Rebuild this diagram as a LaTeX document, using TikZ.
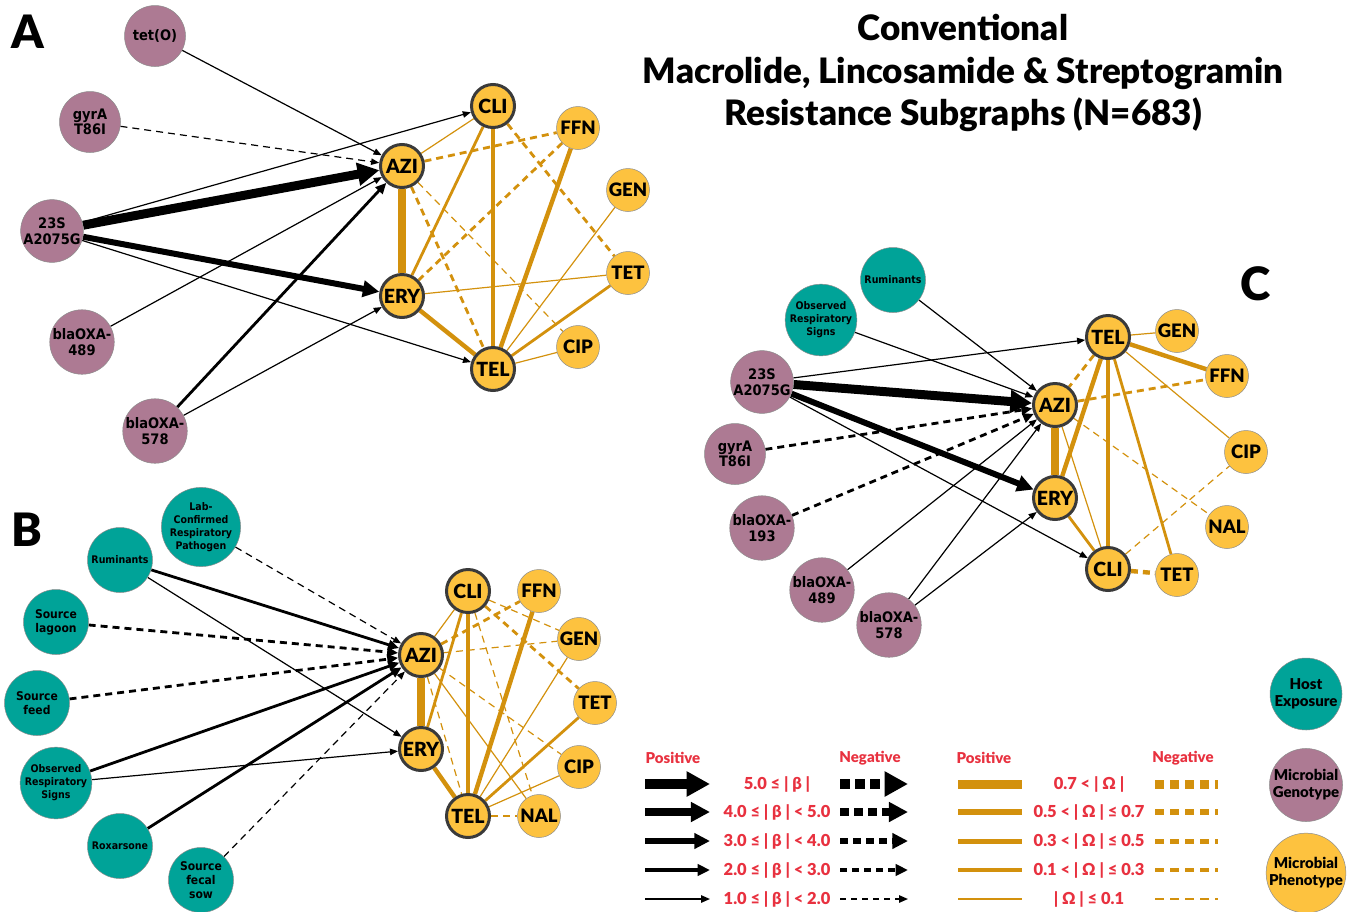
\documentclass[tikz,border=0pt]{standalone}
\usepackage{fontspec}
\setmainfont{Lato}[BoldFont={Lato Bold}]
\newfontfamily\heavy{Lato Black}
\newfontfamily\gfont{DejaVu Sans Condensed Bold}
\usetikzlibrary{arrows.meta,backgrounds}
\definecolor{hostcol}{HTML}{00A398}
\definecolor{genecol}{HTML}{AD7A93}
\definecolor{phenocol}{HTML}{FDC23F}
\definecolor{edgecol}{HTML}{D3910D}
\definecolor{ringcol}{HTML}{3A3A3A}
\definecolor{rimcol}{HTML}{8C8C8C}
\definecolor{keyred}{HTML}{E8313F}
\tikzset{
    gene/.style={circle, fill=genecol, draw=rimcol, line width=0.5pt, minimum size=61pt, inner sep=0pt, align=center, font=\gfont\fontsize{14.5}{15.5}\selectfont},
    host/.style={gene, fill=hostcol, minimum size=65pt, font=\gfont\fontsize{10.5}{13}\selectfont},
    hostlg/.style={host, font=\gfont\fontsize{12}{14}\selectfont},
    drug/.style={circle, fill=phenocol, draw=ringcol, line width=3pt, minimum size=43pt, inner sep=0pt, font=\heavy\fontsize{19.5}{19.5}\selectfont},
    pheno/.style={circle, fill=phenocol, draw=rimcol, line width=0.5pt, minimum size=43pt, inner sep=0pt, font=\heavy\fontsize{18.5}{18.5}\selectfont},
    key/.style={circle, draw=rimcol, line width=0.5pt, minimum size=72pt, inner sep=0pt, align=center, font=\heavy\fontsize{15}{17}\selectfont},
    panel/.style={font=\heavy\fontsize{46}{46}\selectfont},
    keyhead/.style={text=keyred, font=\heavy\fontsize{15}{16}\selectfont},
    keytext/.style={text=keyred, font=\heavy\fontsize{16.5}{17}\selectfont},
    arr/.style={draw=black, -{Triangle[length=6pt 1.75, width=4pt 2]}},
    b1/.style={arr, line width=1.2pt},
    b2/.style={arr, line width=2.8pt},
    b3/.style={arr, line width=4.4pt},
    b4/.style={arr, line width=6pt},
    b5/.style={arr, line width=9pt},
    orng/.style={draw=edgecol},
    o1/.style={orng, line width=1.2pt},
    o2/.style={orng, line width=2.8pt},
    o3/.style={orng, line width=4.4pt},
    o4/.style={orng, line width=6pt},
    o5/.style={orng, line width=8pt},
    neg/.style={dash pattern=on 7pt off 5pt},
}
\begin{document}
\begin{tikzpicture}[x=1pt, y=-1pt]
    \useasboundingbox (0,0) rectangle (1354,911);
    \node[panel] (pA) at (28,32) {A};
    \node[panel] (pB) at (27,530) {B};
    \node[panel] (pC) at (1256,284) {C};
    \node[align=center, font=\heavy\fontsize{35}{42.5}\selectfont] (ttl) at (963,73) {Conventional\\Macrolide, Lincosamide \& Streptogramin\\Resistance Subgraphs (N=683)};

    \node[gene] (atetO) at (155,36) {tet(O)};
    \node[gene] (agyr) at (90,122) {gyrA\\T86I};
    \node[gene] (a23s) at (52,231) {23S\\A2075G};
    \node[gene] (a489) at (82,342) {blaOXA-\\489};
    \node[gene] (a578) at (155,431) {blaOXA-\\578};
    \node[drug] (aazi) at (402,166) {AZI};
    \node[drug] (aery) at (402,296) {ERY};
    \node[drug] (acli) at (493,106) {CLI};
    \node[drug] (atel) at (493,369) {TEL};
    \node[pheno] (affn) at (578,128) {FFN};
    \node[pheno] (agen) at (628,190) {GEN};
    \node[pheno] (atet) at (628,273) {TET};
    \node[pheno] (acip) at (578,347) {CIP};

    \node[host] (blab) at (201,527) {Lab-\\Confirmed\\Respiratory\\Pathogen};
    \node[host] (brum) at (120,560) {Ruminants};
    \node[hostlg] (blag) at (56,622) {Source\\lagoon};
    \node[hostlg] (bfeed) at (37,703) {Source\\feed};
    \node[host] (bobs) at (56,783) {Observed\\Respiratory\\Signs};
    \node[host] (brox) at (120,846) {Roxarsone};
    \node[hostlg] (bsow) at (201,880) {Source\\fecal\\sow};
    \node[drug] (bazi) at (421,655) {AZI};
    \node[drug] (bery) at (421,749) {ERY};
    \node[drug] (bcli) at (468,591) {CLI};
    \node[drug] (btel) at (468,816) {TEL};
    \node[pheno] (bffn) at (539,591) {FFN};
    \node[pheno] (bgen) at (579,639) {GEN};
    \node[pheno] (btet) at (595,703) {TET};
    \node[pheno] (bcip) at (579,767) {CIP};
    \node[pheno] (bnal) at (539,816) {NAL};

    \node[host] (crum) at (893,280) {Ruminants};
    \node[host] (cobs) at (821,320) {Observed\\Respiratory\\Signs};
    \node[gene] (c23s) at (762,382) {23S\\A2075G};
    \node[gene] (cgyr) at (735,454) {gyrA\\T86I};
    \node[gene] (c193) at (762,528) {blaOXA-\\193};
    \node[gene] (c489) at (822,590) {blaOXA-\\489};
    \node[gene] (c578) at (889,625) {blaOXA-\\578};
    \node[drug] (ctel) at (1108,337) {TEL};
    \node[drug] (cazi) at (1055,405) {AZI};
    \node[drug] (cery) at (1055,498) {ERY};
    \node[drug] (ccli) at (1108,569) {CLI};
    \node[pheno] (cgen) at (1177,331) {GEN};
    \node[pheno] (cffn) at (1227,376) {FFN};
    \node[pheno] (ccip) at (1246,452) {CIP};
    \node[pheno] (cnal) at (1227,527) {NAL};
    \node[pheno] (ctet) at (1177,575) {TET};

    \node[key, fill=hostcol] (khost) at (1306,694) {Host\\Exposure};
    \node[key, fill=genecol] (kgene) at (1306,785) {Microbial\\Genotype};
    \node[key, fill=phenocol] (kpheno) at (1306,873) {Microbial\\Phenotype};

    \node[keyhead] (hpos1) at (673,758) {Positive};
    \node[keyhead] (hneg1) at (870,758) {Negative};
    \node[keyhead] (hpos2) at (984,758) {Positive};
    \node[keyhead] (hneg2) at (1183,758) {Negative};
    \foreach \k/\y/\wb/\wo/\dn/\tb/\tw in {5/784/10/9/10/{5.0 ≤ | β |}/{0.7 < | Ω |},
        4/812/7.5/6.5/9/{4.0 ≤ | β | < 5.0}/{0.5 < | Ω | ≤ 0.7},
        3/841/5.5/5/8/{3.0 ≤ | β | < 4.0}/{0.3 < | Ω | ≤ 0.5},
        2/870/3.6/3.2/7/{2.0 ≤ | β | < 3.0}/{0.1 < | Ω | ≤ 0.3},
        1/899/1.6/1.6/6/{1.0 ≤ | β | < 2.0}/{| Ω | ≤ 0.1}} {
        \coordinate (sa\k) at (645,\y);
        \coordinate (sb\k) at (710,\y);
        \coordinate (da\k) at (840,\y);
        \coordinate (db\k) at (908,\y);
        \coordinate (oa\k) at (958,\y);
        \coordinate (ob\k) at (1022,\y);
        \coordinate (pa\k) at (1155,\y);
        \coordinate (pb\k) at (1218,\y);
        \node[keytext] (lb\k) at (777,\y) {\tb};
        \node[keytext] (lw\k) at (1089,\y) {\tw};
        \draw[arr, line width=\wb pt] (sa\k) -- (sb\k);
        \draw[arr, line width=\wb pt, dash pattern=on \dn pt off 5pt] (da\k) -- (db\k);
        \draw[orng, line width=\wo pt] (oa\k) -- (ob\k);
        \draw[orng, line width=\wo pt, dash pattern=on 9pt off 6pt] (pa\k) -- (pb\k);
    }

    \begin{scope}[on background layer]
    \draw[b1] (atetO) -- (aazi);
    \draw[b1, neg] (agyr) -- (aazi);
    \draw[b5] (a23s) -- (aazi);
    \draw[b1] (a23s) -- (acli);
    \draw[b4] (a23s) -- (aery);
    \draw[b1] (a23s) -- (atel);
    \draw[b1] (a489) -- (aazi);
    \draw[b2] (a578) -- (aazi);
    \draw[b1] (a578) -- (aery);
    \draw[o5] (aazi) -- (aery);
    \draw[o1] (aazi) -- (acli);
    \draw[o2, neg] (aazi) -- (affn);
    \draw[o2, neg] (aazi) -- (atel);
    \draw[o1, neg] (aazi) -- (acip);
    \draw[o2] (acli) -- (aery);
    \draw[o3] (acli) -- (atel);
    \draw[o2, neg] (acli) -- (atet);
    \draw[o2, neg] (affn) -- (aery);
    \draw[o3] (affn) -- (atel);
    \draw[o1] (agen) -- (atel);
    \draw[o1] (atet) -- (aery);
    \draw[o2] (atet) -- (atel);
    \draw[o1] (acip) -- (atel);
    \draw[o3] (aery) -- (atel);

    \draw[b1, neg] (blab) -- (bazi);
    \draw[b2] (brum) -- (bazi);
    \draw[b1] (brum) -- (bery);
    \draw[b2, neg] (blag) -- (bazi);
    \draw[b2, neg] (bfeed) -- (bazi);
    \draw[b2] (bobs) -- (bazi);
    \draw[b1] (bobs) -- (bery);
    \draw[b2] (brox) -- (bazi);
    \draw[b1, neg] (bsow) -- (bazi);
    \draw[o5] (bazi) -- (bery);
    \draw[o1] (bazi) -- (bcli);
    \draw[o2, neg] (bazi) -- (bffn);
    \draw[o1, neg] (bazi) -- (bgen);
    \draw[o1, neg] (bazi) -- (btel);
    \draw[o1, neg] (bazi) -- (bcip);
    \draw[o1] (bazi) -- (bnal);
    \draw[o2] (bery) -- (bcli);
    \draw[o3] (bery) -- (btel);
    \draw[o3] (bcli) -- (btel);
    \draw[o1, neg] (bcli) -- (bgen);
    \draw[o2, neg] (bcli) -- (btet);
    \draw[o1, neg] (bcli) -- (bnal);
    \draw[o3] (bffn) -- (btel);
    \draw[o1] (bgen) -- (btel);
    \draw[o2] (btet) -- (btel);
    \draw[o1] (bcip) -- (btel);
    \draw[o2, neg] (btel) -- (bnal);

    \draw[b1] (crum) -- (cazi);
    \draw[b1] (cobs) -- (cazi);
    \draw[b1] (c23s) -- (ctel);
    \draw[b5] (c23s) -- (cazi);
    \draw[b4] (c23s) -- (cery);
    \draw[b1] (c23s) -- (ccli);
    \draw[b2, neg] (cgyr) -- (cazi);
    \draw[b2, neg] (c193) -- (cazi);
    \draw[b1] (c489) -- (cazi);
    \draw[b1] (c578) -- (cazi);
    \draw[b1] (c578) -- (cery);
    \draw[o2, neg] (ctel) -- (cazi);
    \draw[o1] (ctel) -- (cgen);
    \draw[o3] (ctel) -- (cffn);
    \draw[o1] (ctel) -- (ccip);
    \draw[o3] (ctel) -- (cery);
    \draw[o3] (ctel) -- (ccli);
    \draw[o2] (ctel) -- (ctet);
    \draw[o2, neg] (cazi) -- (cffn);
    \draw[o5] (cazi) -- (cery);
    \draw[o1] (cazi) -- (ccli);
    \draw[o1, neg] (cazi) -- (cnal);
    \draw[o2] (cery) -- (ccli);
    \draw[o1, neg] (ccli) -- (ccip);
    \draw[o3, neg] (ccli) -- (ctet);
    \end{scope}
\end{tikzpicture}
\end{document}
